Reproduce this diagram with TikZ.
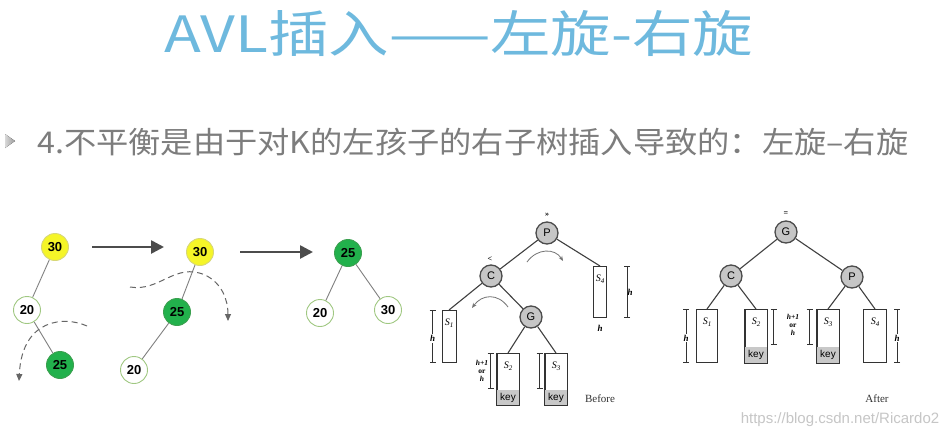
\documentclass[tikz,border=0pt]{standalone}
\usepackage{fontspec}
\setmainfont{Liberation Serif}
\newfontfamily\cjk{Noto Sans CJK SC}
\newfontfamily\arial{Liberation Sans}
\usetikzlibrary{arrows.meta,calc}
\definecolor{titleblue}{RGB}{110,185,222}
\definecolor{subgray}{RGB}{125,125,125}
\definecolor{ylw}{RGB}{245,245,40}
\definecolor{ylwb}{RGB}{215,215,120}
\definecolor{grn}{RGB}{34,177,76}
\definecolor{grnb}{RGB}{60,160,80}
\definecolor{wgrnb}{RGB}{160,200,130}
\definecolor{keygray}{RGB}{200,200,200}
\begin{document}
\begin{tikzpicture}[x=1pt,y=-1pt,
  num/.style={circle, minimum size=27pt, inner sep=0pt, line width=0.9pt,
    font=\arial\bfseries\fontsize{13}{13}\selectfont},
  ynum/.style={num, fill=ylw, draw=ylwb},
  gnum/.style={num, fill=grn, draw=grnb},
  wnum/.style={num, fill=white, draw=wgrnb},
  tline/.style={draw=gray, line width=0.9pt},
  bigarrow/.style={draw=black!70, line width=2.6pt, -{Triangle[length=13pt,width=13pt]}},
  dasharr/.style={draw=black!60, line width=1pt, dash pattern=on 6pt off 4pt,
    -{Triangle[length=7pt,width=6pt]}},
  letnode/.style={circle, minimum size=22pt, inner sep=0pt, fill=gray!45,
    draw=black!70, line width=1.3pt, font=\arial\fontsize{11}{11}\selectfont},
  eline/.style={draw=black!75, line width=1.1pt},
  subbox/.style={draw=black!80, line width=1pt, fill=white, inner sep=0pt, anchor=north},
  mbar/.style={draw=black!80, line width=0.8pt, {Bar[width=6pt]}-{Bar[width=6pt]}},
  hlab/.style={font=\bfseries\itshape\fontsize{9}{9}\selectfont, fill=white, inner sep=1pt},
  hor/.style={font=\fontsize{8}{8.5}\selectfont, align=center, inner sep=1pt, fill=white},
  slab/.style={font=\itshape\fontsize{10}{10}\selectfont, inner sep=0pt},
  keylab/.style={font=\arial\fontsize{10}{10}\selectfont, inner sep=0pt},
  curarr/.style={draw=black!55, line width=0.8pt, -{Stealth[length=5pt,width=4pt]}},
  marklab/.style={font=\bfseries\fontsize{8}{8}\selectfont, inner sep=0pt},
  captext/.style={font=\fontsize{11}{11}\selectfont, text=black!80}
]
\useasboundingbox (0,0) rectangle (952,437);
\fill[white] (0,0) rectangle (952,437);

% title
\node[text=titleblue, font=\cjk\fontsize{50}{50}\selectfont, inner sep=0pt] (title) at (459,33) {\scalebox{1.21}[1]{AVL插入——左旋-右旋}};

% bullet and subtitle
\fill[left color=gray!30, right color=gray!80] (5,134) -- (15,141) -- (5,148) -- cycle;
\node[anchor=west, text=subgray, font=\cjk\fontsize{30}{30}\selectfont, inner sep=0pt] (sub) at (37,142) {\scalebox{1.075}[1]{4.不平衡是由于对K的左孩子的右子树插入导致的：左旋–右旋}};

% tree 1
\node[ynum] (a30) at (55,247) {30};
\node[wnum] (a20) at (27,310) {20};
\node[gnum] (a25) at (60,365) {25};
\draw[tline] (a30) -- (a20);
\draw[tline] (a20) -- (a25);
\coordinate (d1s) at (87,326);
\coordinate (d1e) at (19,381);
\draw[dasharr] (d1s) .. controls (65,316) and (22,318) .. (d1e);

% arrow 1
\coordinate (ar1s) at (92,247);
\coordinate (ar1e) at (164,247);
\draw[bigarrow] (ar1s) -- (ar1e);

% tree 2
\node[ynum] (b30) at (200,252) {30};
\node[gnum] (b25) at (177,312) {25};
\node[wnum] (b20) at (134,370) {20};
\draw[tline] (b30) -- (b25);
\draw[tline] (b25) -- (b20);
\coordinate (d2s) at (130,287);
\coordinate (d2e) at (228,321);
\draw[dasharr] (d2s) .. controls (160,292) and (175,262) .. (205,275) .. controls (222,283) and (228,300) .. (d2e);

% arrow 2
\coordinate (ar2s) at (240,252);
\coordinate (ar2e) at (313,252);
\draw[bigarrow] (ar2s) -- (ar2e);

% tree 3
\node[gnum] (c25) at (348,253) {25};
\node[wnum] (c20) at (320,313) {20};
\node[wnum] (c30) at (388,310) {30};
\draw[tline] (c25) -- (c20);
\draw[tline] (c25) -- (c30);

% ===== Before =====
\node[letnode] (bP) at (547,233) {P};
\node[letnode] (bC) at (491,276) {C};
\node[letnode] (bG) at (531,317) {G};
\node[marklab] (bPm) at (547,215) {\textgreater\textgreater};
\node[marklab] (bCm) at (490,259) {\textless};

\node[subbox, minimum width=14pt, minimum height=52pt] (bS1) at (449,310) {};
\node[subbox, minimum width=22pt, minimum height=51pt] (bS2) at (508,353) {};
\node[subbox, minimum width=22pt, minimum height=51pt] (bS3) at (556,353) {};
\node[subbox, minimum width=13pt, minimum height=51pt] (bS4) at (600,266) {};

\fill[keygray] ([xshift=0.5pt,yshift=0.5pt]bS2.south west) rectangle ([xshift=-0.5pt,yshift=15pt]bS2.south east);
\fill[keygray] ([xshift=0.5pt,yshift=0.5pt]bS3.south west) rectangle ([xshift=-0.5pt,yshift=15pt]bS3.south east);
\draw[draw=black!80, line width=1pt] (bS2.south west) rectangle (bS2.north east);
\draw[draw=black!80, line width=1pt] (bS3.south west) rectangle (bS3.north east);

\node[slab] (bS1l) at ($(bS1.north)+(0,13)$) {S\raisebox{-2pt}{\fontsize{7}{7}\selectfont 1}};
\node[slab] (bS2l) at ($(bS2.north)+(0,13)$) {S\raisebox{-2pt}{\fontsize{7}{7}\selectfont 2}};
\node[slab] (bS3l) at ($(bS3.north)+(0,13)$) {S\raisebox{-2pt}{\fontsize{7}{7}\selectfont 3}};
\node[slab] (bS4l) at ($(bS4.north)+(0,13)$) {S\raisebox{-2pt}{\fontsize{7}{7}\selectfont 4}};
\node[keylab] (bk2) at ($(bS2.south)+(0,-7)$) {key};
\node[keylab] (bk3) at ($(bS3.south)+(0,-7)$) {key};

\draw[eline] (bP) -- (bC);
\draw[eline] (bP) -- (bS4.north);
\draw[eline] (bC) -- (bS1.north);
\draw[eline] (bC) -- (bG);
\draw[eline] (bG) -- (bS2.north);
\draw[eline] (bG) -- (bS3.north);

% measures
\draw[mbar] ($(bS1.north west)+(-9,0)$) -- ($(bS1.south west)+(-9,0)$);
\node[hlab] (bh1) at ($(bS1.west)+(-9,2)$) {h};
\draw[mbar] ($(bS4.north east)+(20,0)$) -- ($(bS4.south east)+(20,0)$);
\node[hlab, fill=none] (bh4) at ($(bS4.east)+(23,0)$) {h};
\node[hlab] (bh4b) at ($(bS4.south)+(0,10)$) {h};
\draw[mbar] ($(bS2.north west)+(-6,0)$) -- ($(bS2.south west)+(-6,-16)$);
\draw[mbar] ($(bS3.north west)+(-5,0)$) -- ($(bS3.south west)+(-5,-16)$);
\node[hor, font=\bfseries\fontsize{7.5}{8}\selectfont] (bhor) at (482,371) {\textit{h+1}\\or\\\textit{h}};

% curved arrows
\coordinate (bc1s) at (527,262);
\coordinate (bc1e) at (563,261);
\draw[curarr] (bc1s) .. controls (537,248) and (555,248) .. (bc1e);
\coordinate (bc2s) at (508,307);
\coordinate (bc2e) at (472,308);
\draw[curarr] (bc2s) .. controls (498,293) and (482,294) .. (bc2e);

\node[captext] (before) at (600,399) {Before};

% ===== After =====
\node[letnode] (aG) at (786,232) {G};
\node[letnode] (aC) at (731,276) {C};
\node[letnode] (aP) at (852,277) {P};
\node[marklab] (aGm) at (786,214) {=};

\node[subbox, minimum width=21pt, minimum height=53pt] (aS1) at (707,309) {};
\node[subbox, minimum width=22pt, minimum height=53pt] (aS2) at (756,309) {};
\node[subbox, minimum width=22pt, minimum height=53pt] (aS3) at (828,309) {};
\node[subbox, minimum width=23pt, minimum height=53pt] (aS4) at (875,309) {};

\fill[keygray] ([xshift=0.5pt,yshift=0.5pt]aS2.south west) rectangle ([xshift=-0.5pt,yshift=16pt]aS2.south east);
\fill[keygray] ([xshift=0.5pt,yshift=0.5pt]aS3.south west) rectangle ([xshift=-0.5pt,yshift=16pt]aS3.south east);
\draw[draw=black!80, line width=1pt] (aS2.south west) rectangle (aS2.north east);
\draw[draw=black!80, line width=1pt] (aS3.south west) rectangle (aS3.north east);

\node[slab] (aS1l) at ($(aS1.north)+(0,13)$) {S\raisebox{-2pt}{\fontsize{7}{7}\selectfont 1}};
\node[slab] (aS2l) at ($(aS2.north)+(0,13)$) {S\raisebox{-2pt}{\fontsize{7}{7}\selectfont 2}};
\node[slab] (aS3l) at ($(aS3.north)+(0,13)$) {S\raisebox{-2pt}{\fontsize{7}{7}\selectfont 3}};
\node[slab] (aS4l) at ($(aS4.north)+(0,13)$) {S\raisebox{-2pt}{\fontsize{7}{7}\selectfont 4}};
\node[keylab] (ak2) at ($(aS2.south)+(0,-8)$) {key};
\node[keylab] (ak3) at ($(aS3.south)+(0,-8)$) {key};

\draw[eline] (aG) -- (aC);
\draw[eline] (aG) -- (aP);
\draw[eline] (aC) -- (aS1.north);
\draw[eline] (aC) -- (aS2.north);
\draw[eline] (aP) -- (aS3.north);
\draw[eline] (aP) -- (aS4.north);

\draw[mbar] ($(aS1.north west)+(-10,0)$) -- ($(aS1.south west)+(-10,0)$);
\node[hlab] (ah1) at ($(aS1.west)+(-10,2)$) {h};
\draw[mbar] ($(aS4.north east)+(10,0)$) -- ($(aS4.south east)+(10,0)$);
\node[hlab] (ah4) at ($(aS4.east)+(10,2)$) {h};
\draw[mbar] ($(aS2.north east)+(6,0)$) -- ($(aS2.south east)+(6,-18)$);
\draw[mbar] ($(aS3.north west)+(-7,0)$) -- ($(aS3.south west)+(-7,-18)$);
\node[hor, font=\bfseries\fontsize{7.5}{8}\selectfont] (ahor) at (793,325) {\textit{h+1}\\or\\\textit{h}};

\node[captext] (after) at (877,399) {After};

% watermark
\node[text=gray!45, font=\arial\fontsize{15}{15}\selectfont, inner sep=0pt] (wm) at (840,420) {https://blog.csdn.net/Ricardo2};
\end{tikzpicture}
\end{document}
